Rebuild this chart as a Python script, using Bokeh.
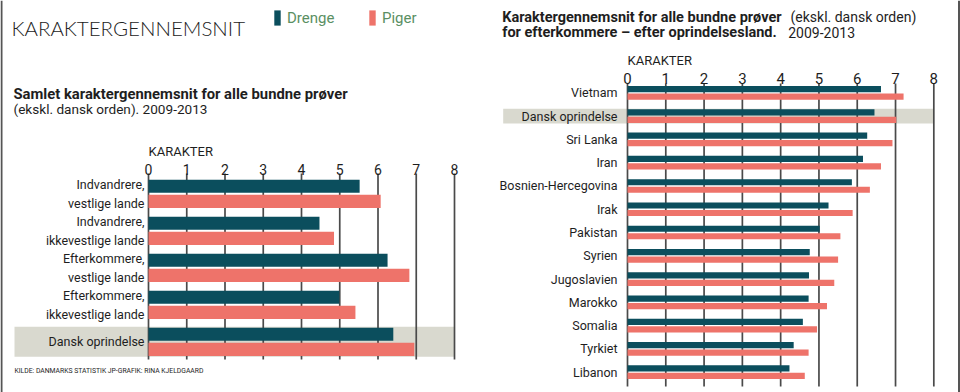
from bokeh.plotting import figure
from bokeh.models import Range1d, Label, ColumnDataSource, Legend, LegendItem, Span
from bokeh.layouts import row
from bokeh.embed import file_html
from bokeh.resources import INLINE
from bokeh.core.properties import value

# ---------------- data ----------------
left_categories = ["Indvandrere,\nvestlige lande", "Indvandrere,\nikkevestlige lande",
                   "Efterkommere,\nvestlige lande", "Efterkommere,\nikkevestlige lande",
                   "Dansk oprindelse"]
left_drenge = [5.52, 4.47, 6.25, 4.99, 6.40]
left_piger = [6.07, 4.85, 6.82, 5.41, 6.95]

right_categories = ["Vietnam", "Dansk oprindelse", "Sri Lanka", "Iran", "Bosnien-Hercegovina",
                    "Irak", "Pakistan", "Syrien", "Jugoslavien", "Marokko", "Somalia",
                    "Tyrkiet", "Libanon"]
right_drenge = [6.62, 6.45, 6.26, 6.15, 5.86, 5.25, 5.02, 4.76, 4.74, 4.73, 4.58, 4.34, 4.23]
right_piger = [7.21, 7.02, 6.92, 6.62, 6.33, 5.88, 5.56, 5.50, 5.40, 5.21, 4.95, 4.73, 4.63]

tick_values = [0, 1, 2, 3, 4, 5, 6, 7, 8]
tick_labels = ["0", "1", "2", "3", "4", "5", "6", "7", "8"]
highlight = "Dansk oprindelse"

# ---------------- style ----------------
H = 392
C_DRENGE = "#0b4e5d"
C_PIGER = "#ee736a"
C_BAND = "#d9d9cf"
C_GRID = "#4a4a4a"
C_TEXT = "#1e1e1e"
C_LEG = "#5a8f63"
FONT = "Roboto"
FONT_LIGHT = "'Lato Light', Lato"


def make_fig(width, x0, unit, y0, pitch):
    p = figure(width=width, height=H, output_backend="svg", toolbar_location=None,
               x_range=Range1d(-x0 / unit, (width - x0) / unit),
               y_range=Range1d((H - y0) / pitch, -y0 / pitch),
               x_axis_location=None, y_axis_location=None,
               min_border=0, min_border_left=0, min_border_right=0,
               min_border_top=0, min_border_bottom=0)
    p.outline_line_color = None
    p.xgrid.visible = False
    p.ygrid.visible = False
    p.background_fill_color = "white"
    p.border_fill_color = "white"
    fx = lambda sx: (sx - x0) / unit
    fy = lambda sy: (sy - y0) / pitch
    return p, fx, fy


def txt(p, x, y, text, size, bold=False, color=C_TEXT, font=FONT, align="left"):
    p.add_layout(Label(x=x, y=y, text=text, text_font=font, text_font_size=size,
                       text_font_style="bold" if bold else "normal",
                       text_color=color, text_align=align, text_baseline="alphabetic"))


def draw_chart(p, fx, fy, cats, drenge, piger, off, bar_h, band_h, band_left,
               grid_top, grid_bot, label_off, tick_y, kar_y, font_lbl, font_tick, font_kar):
    n = len(cats)
    idx = list(range(n))
    hi = cats.index(highlight)
    p.hbar(y=[hi], left=[band_left], right=[tick_values[-1]], height=band_h,
           fill_color=C_BAND, line_color=None)
    p.segment(x0=tick_values, x1=tick_values, y0=[grid_top] * len(tick_values),
              y1=[grid_bot] * len(tick_values), line_color=C_GRID, line_width=1.7)
    src = ColumnDataSource(dict(yd=[i - off for i in idx], yp=[i + off for i in idx],
                                d=drenge, g=piger, cat=cats, yc=idx))
    rd = p.hbar(y="yd", left=0, right="d", height=bar_h, source=src,
                fill_color=C_DRENGE, line_color=None)
    rp = p.hbar(y="yp", left=0, right="g", height=bar_h, source=src,
                fill_color=C_PIGER, line_color=None)
    p.text(x=0, y="yc", text="cat", source=src, x_offset=label_off,
           text_align="right", text_baseline="middle", text_font=value(FONT),
           text_font_size=font_lbl, text_color=C_TEXT, text_line_height=1.25)
    p.text(x=tick_values, y=[tick_y] * len(tick_values), text=tick_labels,
           text_align="center", text_baseline="alphabetic", text_font=value(FONT),
           text_font_size=font_tick, text_color=C_TEXT)
    txt(p, 0, kar_y, "KARAKTER", font_kar)
    return rd, rp


# ---------------- left figure ----------------
W1 = 480
pl, lx, ly = make_fig(W1, 148, 38.25, 193.3, 37.0)
rd, rp = draw_chart(pl, lx, ly, left_categories, left_drenge, left_piger,
                    off=0.205, bar_h=0.355, band_h=0.81, band_left=lx(14),
                    grid_top=ly(173), grid_bot=ly(359), label_off=-4,
                    tick_y=ly(168.5), kar_y=ly(150.5), font_lbl="12.5px",
                    font_tick="14px", font_kar="13px")

txt(pl, lx(11), ly(27), "KARAKTERGENNEMSNIT", "20.5px", font=FONT_LIGHT, color="#222222")
txt(pl, lx(13), ly(93.5), "Samlet karaktergennemsnit for alle bundne prøver", "14.8px", bold=True)
txt(pl, lx(13), ly(108.5), "(ekskl. dansk orden).  2009-2013", "13.6px")
txt(pl, lx(14), ly(370), "KILDE: DANMARKS STATISTIK JP-GRAFIK: RINA KJELDGAARD", "6.8px")
pl.add_layout(Span(location=lx(1), dimension="height", line_color="#555555", line_width=2))

legend = Legend(items=[LegendItem(label="Drenge", renderers=[rd]),
                       LegendItem(label="Piger", renderers=[rp])],
                orientation="horizontal", location=(273, H - 27),
                glyph_width=8, glyph_height=19, label_standoff=6, label_width=75,
                spacing=6, padding=0, margin=0, border_line_color=None,
                background_fill_alpha=0, label_text_font=FONT, label_text_font_size="15px",
                label_text_color=C_LEG)
pl.add_layout(legend)

# ---------------- right figure ----------------
W2 = 480
pr, rx, ry = make_fig(W2, 147, 38.29, 92.4, 23.27)
draw_chart(pr, rx, ry, right_categories, right_drenge, right_piger,
           off=0.161, bar_h=0.266, band_h=0.63, band_left=rx(22.7),
           grid_top=ry(83), grid_bot=ry(386), label_off=-10,
           tick_y=ry(78), kar_y=ry(60), font_lbl="12.5px", font_tick="15px", font_kar="13px")

txt(pr, rx(21.7), ry(16.7), "Karaktergennemsnit for alle bundne prøver", "14.5px", bold=True)
txt(pr, rx(310), ry(16.7), "(ekskl. dansk orden)", "14px")
txt(pr, rx(21.7), ry(31.7), "for efterkommere – efter oprindelsesland.", "14.5px", bold=True)
txt(pr, rx(307.7), ry(31.7), "2009-2013", "14px")
pr.add_layout(Span(location=rx(478.5), dimension="height", line_color="#555555", line_width=2))

layout = row(pl, pr)
open("out.html", "w").write(file_html(layout, INLINE))
